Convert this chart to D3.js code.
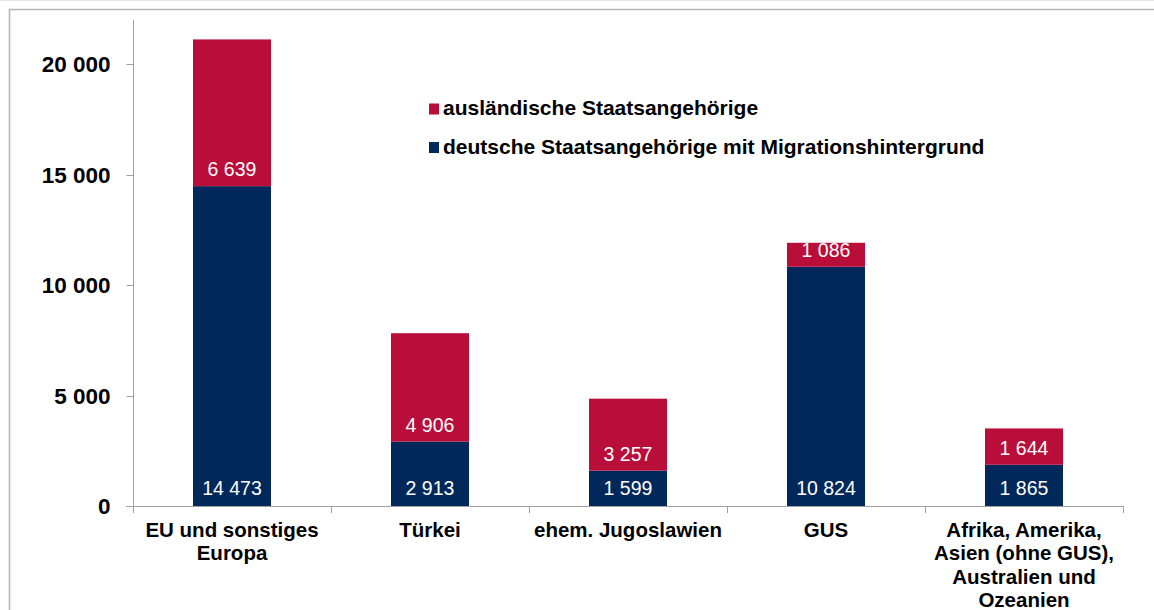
<!DOCTYPE html>
<html>
<head>
<meta charset="utf-8">
<script src="https://cdn.jsdelivr.net/npm/d3@7"></script>
<style>
  body { margin: 0; background: #fff; }
  svg { display: block; font-family: "Liberation Sans", Arial, sans-serif; }
</style>
</head>
<body>
<svg id="chart" width="1154" height="610"></svg>
<script>
// data
var categories = [
  ["EU und sonstiges", "Europa"],
  ["Türkei"],
  ["ehem. Jugoslawien"],
  ["GUS"],
  ["Afrika, Amerika,", "Asien (ohne GUS),", "Australien und", "Ozeanien"]
];
var deutsche = [14473, 2913, 1599, 10824, 1865];
var auslaendische = [6639, 4906, 3257, 1086, 1644];
var yTicks = [0, 5000, 10000, 15000, 20000];
var seriesNames = ["ausländische Staatsangehörige", "deutsche Staatsangehörige mit Migrationshintergrund"];

var red = "#b90e3a", navy = "#00285a", axisGrey = "#a0a0a0";

var svg = d3.select("#chart");

// frame around the chart area
svg.append("line").attr("x1", 0).attr("x2", 1154).attr("y1", 0.5).attr("y2", 0.5)
  .attr("stroke", "#e6e6e6");
svg.append("path")
  .attr("d", "M9.5,610 V9.5 H1154")
  .attr("fill", "none")
  .attr("stroke", "#b4b4b4")
  .attr("stroke-width", 1.5);

var x = d3.scaleBand().domain(d3.range(categories.length)).range([133, 1123]).paddingInner(0).paddingOuter(0);
var y = d3.scaleLinear().domain([0, 22000]).range([506, 19.8]);

var fmt = function(v) { return d3.format(",")(v).replace(/,/g, " ") };

// y axis
var yAxis = svg.append("g").attr("transform", "translate(133.5,0)");
yAxis.append("line").attr("y1", y(22000)).attr("y2", y(0) + 0.5).attr("stroke", axisGrey);
yAxis.selectAll(".tick").data(yTicks).enter().append("line")
  .attr("x1", -7).attr("x2", 0)
  .attr("y1", function(d) { return Math.round(y(d)) + 0.5 })
  .attr("y2", function(d) { return Math.round(y(d)) + 0.5 })
  .attr("stroke", axisGrey);
yAxis.selectAll(".lbl").data(yTicks).enter().append("text")
  .attr("x", -23).attr("y", function(d) { return y(d) })
  .attr("dy", "0.36em")
  .attr("text-anchor", "end")
  .attr("font-size", 22.5).attr("font-weight", "bold")
  .attr("fill", "#000")
  .text(function(d) { return fmt(d) });

// bars
var barW = 78;
var groups = svg.selectAll(".bar").data(categories).enter().append("g");
groups.append("rect")
  .attr("x", function(d, i) { return x(i) + x.bandwidth() / 2 - barW / 2 })
  .attr("y", function(d, i) { return y(deutsche[i]) })
  .attr("width", barW)
  .attr("height", function(d, i) { return y(0) - y(deutsche[i]) })
  .attr("fill", navy);
groups.append("rect")
  .attr("x", function(d, i) { return x(i) + x.bandwidth() / 2 - barW / 2 })
  .attr("y", function(d, i) { return y(deutsche[i] + auslaendische[i]) })
  .attr("width", barW)
  .attr("height", function(d, i) { return y(deutsche[i]) - y(deutsche[i] + auslaendische[i]) })
  .attr("fill", red);

// value labels, sitting near the base of each segment
groups.append("text")
  .attr("x", function(d, i) { return x(i) + x.bandwidth() / 2 })
  .attr("y", function(d, i) { return y(0) - 11.5 })
  .attr("text-anchor", "middle").attr("font-size", 19.5).attr("fill", "#fff")
  .text(function(d, i) { return fmt(deutsche[i]) });
groups.append("text")
  .attr("x", function(d, i) { return x(i) + x.bandwidth() / 2 })
  .attr("y", function(d, i) { return y(deutsche[i]) - 10 })
  .attr("text-anchor", "middle").attr("font-size", 19.5).attr("fill", "#fff")
  .text(function(d, i) { return fmt(auslaendische[i]) });

// x axis
var xAxis = svg.append("g");
xAxis.append("line").attr("x1", 126).attr("x2", 1123.5)
  .attr("y1", y(0) + 0.5).attr("y2", y(0) + 0.5).attr("stroke", axisGrey);
xAxis.selectAll(".tick").data(d3.range(categories.length + 1)).enter().append("line")
  .attr("x1", function(i) { return Math.round(133 + i * x.bandwidth()) + 0.5 })
  .attr("x2", function(i) { return Math.round(133 + i * x.bandwidth()) + 0.5 })
  .attr("y1", y(0)).attr("y2", y(0) + 7)
  .attr("stroke", axisGrey);
var catLabels = xAxis.selectAll(".cat").data(categories).enter().append("text")
  .attr("text-anchor", "middle").attr("font-size", 20.5).attr("font-weight", "bold").attr("fill", "#000");
catLabels.selectAll("tspan").data(function(d, i) { return d.map(function(t) { return { t: t, i: i } }) })
  .enter().append("tspan")
  .attr("x", function(d) { return x(d.i) + x.bandwidth() / 2 })
  .attr("y", function(d, j) { return 537 + j * 23.3 })
  .text(function(d) { return d.t });

// legend
var legendColors = [red, navy];
var legend = svg.selectAll(".legend").data(seriesNames).enter().append("g")
  .attr("transform", function(d, i) { return "translate(429," + (107.5 + i * 38.5) + ")" });
legend.append("rect").attr("x", 0).attr("y", -4).attr("width", 10).attr("height", 11)
  .attr("fill", function(d, i) { return legendColors[i] });
legend.append("text").attr("x", 14).attr("dy", "0.36em")
  .attr("font-size", 21).attr("font-weight", "bold").attr("fill", "#000")
  .text(function(d) { return d });
</script>
</body>
</html>
